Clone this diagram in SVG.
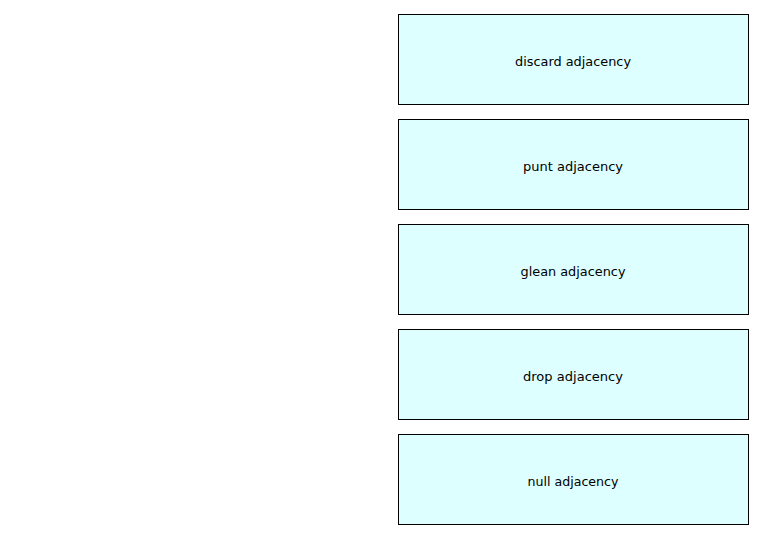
<svg xmlns="http://www.w3.org/2000/svg" width="760" height="539" viewBox="0 0 760 539">
<style>
.box{fill:#DDFFFF;stroke:#000;stroke-width:1}
.lbl{font-family:"DejaVu Sans","Liberation Sans",sans-serif;font-size:13px;fill:#000;text-anchor:middle}
</style>
<rect width="760" height="539" fill="#fff"/>
<g id="connectors"></g>
<g id="n1"><rect class="box" x="398.5" y="14.5" width="350" height="90"/><text class="lbl" x="573" y="65.5" textLength="116" lengthAdjust="spacingAndGlyphs">discard adjacency</text></g>
<g id="n2"><rect class="box" x="398.5" y="119.5" width="350" height="90"/><text class="lbl" x="573" y="170.5" textLength="100" lengthAdjust="spacingAndGlyphs">punt adjacency</text></g>
<g id="n3"><rect class="box" x="398.5" y="224.5" width="350" height="90"/><text class="lbl" x="573" y="275.5" textLength="105" lengthAdjust="spacingAndGlyphs">glean adjacency</text></g>
<g id="n4"><rect class="box" x="398.5" y="329.5" width="350" height="90"/><text class="lbl" x="573" y="380.5" textLength="100" lengthAdjust="spacingAndGlyphs">drop adjacency</text></g>
<g id="n5"><rect class="box" x="398.5" y="434.5" width="350" height="90"/><text class="lbl" x="573" y="485.5" textLength="91" lengthAdjust="spacingAndGlyphs">null adjacency</text></g>
</svg>
